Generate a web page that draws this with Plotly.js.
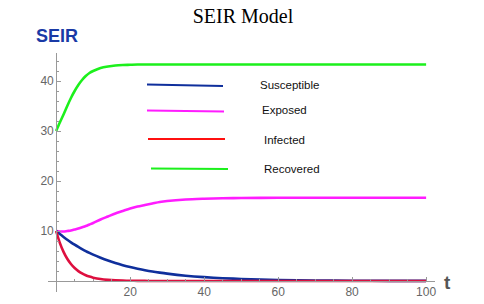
<!DOCTYPE html>
<html>
<head>
<meta charset="utf-8">
<script src="https://cdn.plot.ly/plotly-3.0.1.min.js"></script>
<style>html,body{margin:0;padding:0;background:#fff;}#chart{width:484px;height:304px;}</style>
</head>
<body>
<div id="chart"></div>
<script>
// ---- data ----
var t = [0,1,2,3,4,5,6,7,8,9,10,12,14,16,18,20,22,24,26,28,30,35,40,45,50,60,70,80,90,100];
var susceptible = [10,9.38,8.8,8.25,7.74,7.26,6.81,6.39,5.99,5.62,5.27,4.64,4.08,3.59,3.16,2.78,2.45,2.15,1.89,1.67,1.47,1.06,0.77,0.56,0.41,0.21,0.11,0.06,0.03,0.02];
var exposed = [10,9.9,9.9,10.0,10.1,10.3,10.5,10.75,11.0,11.3,11.6,12.3,12.9,13.5,14.0,14.5,14.9,15.2,15.5,15.8,16.0,16.3,16.45,16.55,16.6,16.65,16.65,16.65,16.65,16.65];
var infected = [10,7.63,5.83,4.45,3.4,2.59,1.98,1.51,1.15,0.88,0.67,0.39,0.23,0.13,0.08,0.05,0.03,0.02,0.01,0,0,0,0,0,0,0,0,0,0,0];
var recovered = [30,31.7,33.3,35.0,36.6,38.0,39.2,40.2,41.0,41.6,42.0,42.6,42.9,43.1,43.2,43.25,43.3,43.3,43.3,43.3,43.3,43.3,43.3,43.3,43.3,43.3,43.3,43.3,43.3,43.3];
var seriesNames = ["Susceptible","Exposed","Infected","Recovered"];
var xTicks = [20,40,60,80,100];
var yTicks = [10,20,30,40];

// ---- styling ----
var curveColors = ["#0f2f9c","#ff1cff","#de0f3f","#1cf01c"];
var legendColors = ["#0f2f9c","#ff1cff","#ff1010","#1cf01c"];
var W = 484, H = 304;
var L = 48, R = 435, T = 53, B = 292;
var xr = [-2.2, 102.4], yr = [-2.2, 45.6];
function px(x){ return (x - L) / (R - L); }
function py(y){ return (B - y) / (B - T); }

var ys = [susceptible, exposed, infected, recovered];
var order = [3,1,0,2];
var traces = order.map(function(i){
  return {x: t, y: ys[i], type: 'scatter', mode: 'lines', name: seriesNames[i],
          line: {color: curveColors[i], width: 2.6, shape: 'spline', smoothing: 0.8},
          showlegend: false, hoverinfo: 'skip'};
});

// legend rows (pixel positions in the reference)
var legRows = [
  {x0:147, x1:223, y0:84.5, y1:86, tx:258, ty:85},
  {x0:147, x1:224, y0:110.5, y1:111.5, tx:260, ty:110},
  {x0:148, x1:225, y0:139, y1:139, tx:262, ty:140},
  {x0:151, x1:228, y0:168.5, y1:169, tx:262, ty:169}
];
var shapes = [], annotations = [];
legRows.forEach(function(r, i){
  shapes.push({type:'line', xref:'paper', yref:'paper', x0:px(r.x0), x1:px(r.x1), y0:py(r.y0), y1:py(r.y1),
               line:{color: legendColors[i], width: 2.2}});
  annotations.push({xref:'paper', yref:'paper', x:px(r.tx), y:py(r.ty), xanchor:'left', yanchor:'middle',
                    text: seriesNames[i], showarrow:false,
                    font:{family:'Liberation Sans, Arial, sans-serif', size:11.5, color:'#111'}});
});
annotations.push({xref:'paper', yref:'paper', x:px(34), y:py(36), xanchor:'left', yanchor:'middle',
                  text:'<b>SEIR</b>', showarrow:false,
                  font:{family:'Liberation Sans, Arial, sans-serif', size:18, color:'#1a3aa6'}});
annotations.push({xref:'paper', yref:'paper', x:px(448), y:py(282), xanchor:'center', yanchor:'middle',
                  text:'<b>t</b>', showarrow:false,
                  font:{family:'Liberation Sans, Arial, sans-serif', size:19, color:'#555'}});

var axisCol = '#999';
var layout = {
  width: W, height: H,
  margin: {l: L, r: W - R, t: T, b: H - B, pad: 0},
  paper_bgcolor: '#fff', plot_bgcolor: '#fff',
  title: {text: 'SEIR Model', x: 243 / W, xanchor: 'center', y: 1 - 16 / H, yanchor: 'middle',
          xref: 'container', yref: 'container',
          font: {family: 'Liberation Serif, Times New Roman, serif', size: 20, color: '#000'}},
  xaxis: {range: xr, anchor: 'free', position: (0 - yr[0]) / (yr[1] - yr[0]),
          showline: true, linecolor: axisCol, linewidth: 1, showgrid: false, zeroline: false,
          tickmode: 'array', tickvals: xTicks, ticks: 'inside', ticklen: 4, tickcolor: axisCol, tickwidth: 1,
          tickfont: {family: 'Liberation Sans, Arial, sans-serif', size: 12, color: '#666'},
          minor: {tickmode: 'linear', tick0: 0, dtick: 5, ticks: 'inside', ticklen: 2, tickcolor: axisCol, showgrid: false},
          fixedrange: true},
  yaxis: {range: yr, anchor: 'free', position: (0 - xr[0]) / (xr[1] - xr[0]),
          showline: true, linecolor: axisCol, linewidth: 1, showgrid: false, zeroline: false,
          tickmode: 'array', tickvals: yTicks, ticks: 'inside', ticklen: 4, tickcolor: axisCol, tickwidth: 1,
          tickfont: {family: 'Liberation Sans, Arial, sans-serif', size: 12, color: '#666'},
          minor: {tickmode: 'linear', tick0: 0, dtick: 2, ticks: 'inside', ticklen: 2, tickcolor: axisCol, showgrid: false},
          fixedrange: true},
  shapes: shapes,
  annotations: annotations,
  showlegend: false
};
Plotly.newPlot('chart', traces, layout, {displayModeBar: false, staticPlot: true});
</script>
</body>
</html>
